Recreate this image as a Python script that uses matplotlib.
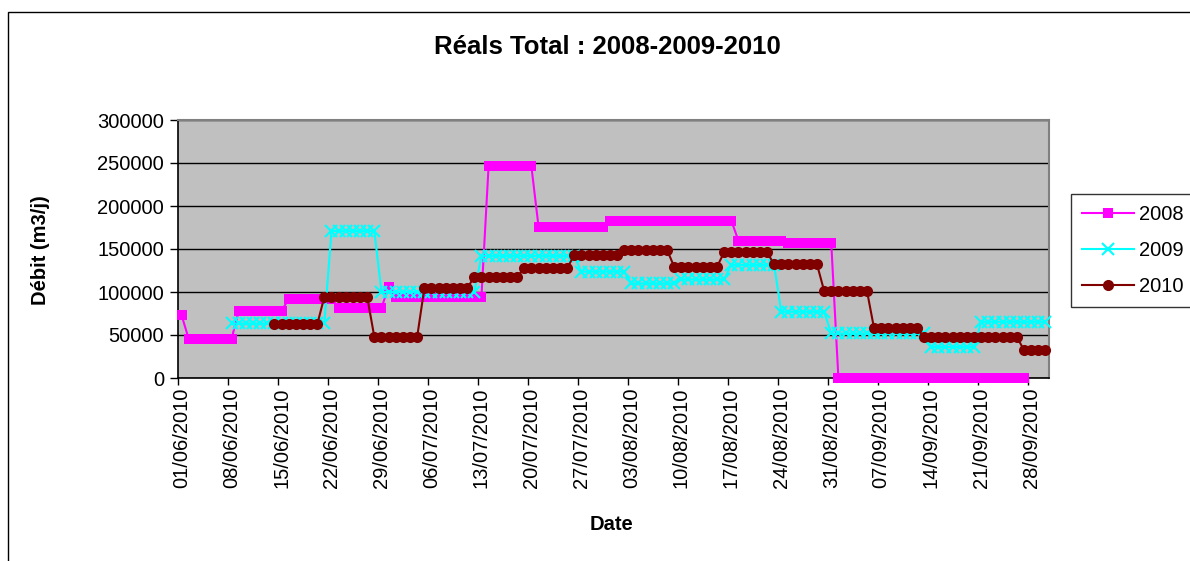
import numpy as np
import pandas as pd
import matplotlib
matplotlib.use("Agg")
import matplotlib.pyplot as plt
from matplotlib.patches import Rectangle

plt.rcParams['font.family'] = ['Liberation Sans', 'DejaVu Sans']

# ---- data (run-length encoded daily values, 01/06 -> 30/09) ----
dates = pd.date_range("2010-06-01", "2010-09-30", freq="D")

vals_2008 = [73000, 45500, 77800, 92000, 81600, 106000, 94000, 246000,
             176000, 183000, 159700, 157000, 0, np.nan]
runs_2008 = [1, 7, 7, 7, 7, 1, 13, 7, 10, 18, 7, 7, 27, 3]

vals_2009 = [np.nan, 63400, 171000, 100000, 142000, 123600, 110000, 114700,
             131400, 77000, 51800, 36100, 65300]
runs_2009 = [7, 14, 7, 14, 14, 7, 7, 7, 7, 7, 14, 7, 10]

vals_2010 = [np.nan, 62300, 94400, 47800, 104200, 117800, 127500, 143000,
             148900, 129400, 146200, 132200, 101400, 57600, 47800, 32300]
runs_2010 = [13, 7, 7, 7, 7, 7, 7, 7, 7, 7, 7, 7, 7, 7, 14, 4]

series_names = ["2008", "2009", "2010"]
y_ticks = [0, 50000, 100000, 150000, 200000, 250000, 300000]

s2008 = np.repeat(vals_2008, runs_2008)
s2009 = np.repeat(vals_2009, runs_2009)
s2010 = np.repeat(vals_2010, runs_2010)

W, H = 1190, 561
fig = plt.figure(figsize=(W / 100, H / 100), dpi=100)
fig.patch.set_facecolor("white")

# outer chart frame
fig.patches.append(Rectangle((8 / W, -0.05), 1.1, 1 - 12 / H + 0.05,
                             transform=fig.transFigure, fill=False,
                             edgecolor="black", linewidth=1.0))

ax = fig.add_axes([178 / W, 1 - 378 / H, (1049 - 178) / W, (378 - 120) / H])
ax.set_facecolor("#C0C0C0")

x = np.arange(len(dates)) + 0.5
ax.plot(x, s2008, color="#FF00FF", marker="s", markersize=7.8, lw=1.5,
        markeredgewidth=0, clip_on=False, zorder=3, label=series_names[0])
ax.plot(x, s2009, color="#00FFFF", marker="x", markersize=8, lw=1.5,
        markeredgewidth=1.5, clip_on=False, zorder=4, label=series_names[1])
ax.plot(x, s2010, color="#800000", marker="o", markersize=8, lw=1.5,
        markeredgewidth=0, clip_on=False, zorder=5, label=series_names[2])

ax.set_xlim(0, len(dates))
ax.set_ylim(0, 300000)
ax.set_yticks(y_ticks)
ax.set_yticklabels([str(v) for v in y_ticks], fontsize=14.5)
ax.yaxis.grid(True, color="black", linewidth=1.0)
ax.set_axisbelow(True)

# x ticks: marks at category boundaries, labels at category centers
idx = np.arange(0, len(dates), 7)
ax.set_xticks(idx)
ax.set_xticklabels([])
ax.set_xticks(idx + 0.5, minor=True)
ax.set_xticklabels(dates[idx].strftime("%d/%m/%Y"), minor=True,
                   rotation=90, fontsize=14.5)
ax.tick_params(axis="x", which="major", length=5, width=1, color="black")
ax.tick_params(axis="x", which="minor", length=0, pad=7)
ax.tick_params(axis="y", length=6, width=1, pad=4)

for side in ["left", "bottom"]:
    ax.spines[side].set_color("black")
    ax.spines[side].set_linewidth(1.2)
for side in ["top", "right"]:
    ax.spines[side].set_color("#808080")
    ax.spines[side].set_linewidth(1.5)

fig.text(607 / W, 1 - 47 / H, "Réals Total : 2008-2009-2010",
         ha="center", va="center", fontsize=18.5, fontweight="bold")
fig.text(40 / W, 1 - 250 / H, "Débit (m3/j)", ha="center", va="center",
         rotation=90, fontsize=14.5, fontweight="bold")
fig.text(612 / W, 1 - 524 / H, "Date", ha="center", va="center",
         fontsize=14.5, fontweight="bold")

leg = fig.legend(loc="upper left", bbox_to_anchor=(1071 / W, 1 - 194 / H),
                 fontsize=14.5, frameon=True, fancybox=False,
                 edgecolor="black", handlelength=2.6, handletextpad=0.25,
                 borderpad=0.55, labelspacing=0.85, borderaxespad=0)
leg.get_frame().set_linewidth(1.0)

fig.savefig("out.png", dpi=100)
